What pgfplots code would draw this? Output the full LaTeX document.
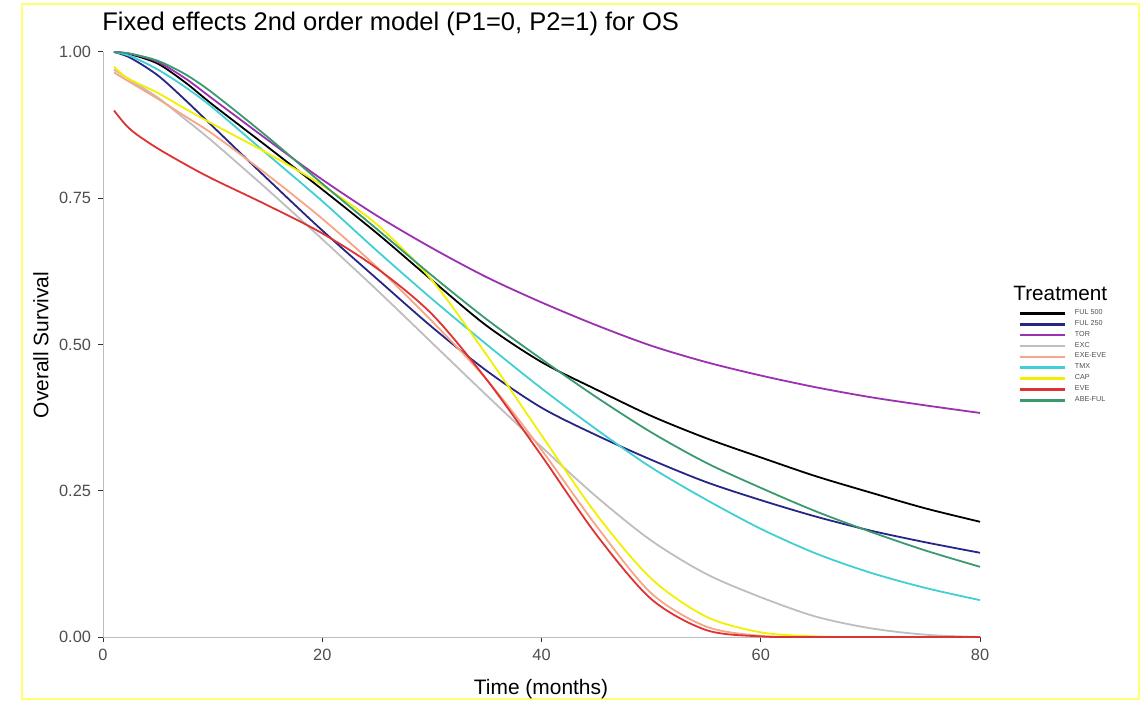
\documentclass[border=0pt]{standalone}
\usepackage{pgfplots}
\pgfplotsset{compat=1.18}
\usepackage{fontspec}
\setmainfont{Liberation Sans}
\definecolor{cFULfive}{HTML}{000000}
\definecolor{cFULtwo}{HTML}{262686}
\definecolor{cTOR}{HTML}{9B30B0}
\definecolor{cEXC}{HTML}{BEBEBE}
\definecolor{cEXEEVE}{HTML}{F6A586}
\definecolor{cTMX}{HTML}{3FCFD5}
\definecolor{cCAP}{HTML}{F0F000}
\definecolor{cEVE}{HTML}{DD3333}
\definecolor{cABEFUL}{HTML}{3A9A6E}
\definecolor{axisgray}{HTML}{BDBDBD}
\definecolor{tickgray}{HTML}{333333}
\definecolor{labelgray}{HTML}{4D4D4D}
\definecolor{frameyellow}{HTML}{FFFF70}

\begin{document}
\begin{tikzpicture}[x=1bp,y=1bp]
  \path[use as bounding box] (0,0) rectangle (573,351);
  \draw[frameyellow, line width=1.1bp] (11,1.5) rectangle (569.5,349);

  \begin{axis}[
    at={(51.5bp,32.5bp)}, anchor=south west,
    scale only axis,
    width=438.5bp, height=292.5bp,
    xmin=0, xmax=80, ymin=0, ymax=1,
    axis x line*=bottom, axis y line*=left,
    axis line style={draw=axisgray, line width=0.5bp, -},
    xtick={0,20,40,60,80},
    ytick={0,0.25,0.5,0.75,1},
    tick align=outside,
    major tick length=2.5bp,
    tick style={draw=tickgray, line width=0.5bp},
    ticklabel style={font=\fontsize{8.2}{9}\selectfont, text=labelgray},
    yticklabel style={/pgf/number format/.cd, fixed, fixed zerofill, precision=2},
    /pgf/number format/assume math mode=true,
    clip=false,
    every axis plot/.append style={line width=0.9bp, smooth, no markers},
    legend image code/.code={\draw[#1, line width=1.3bp] (0bp,0bp) -- (22.5bp,0bp);},
    legend cell align=left,
    legend style={
      at={(1.0433,0.5631)}, anchor=north west,
      draw=none, fill=none, inner sep=0pt,
      row sep=0pt, column sep=4.5bp,
      font=\fontsize{3.6}{4}\selectfont, text=labelgray,
      nodes={inner sep=0pt, minimum height=5.43bp}
    }
  ]
    % FUL 500
    \addplot[color=cFULfive] coordinates {(1,1.0) (2.5,0.996) (5,0.98) (7.5,0.948) (10,0.91)
      (15,0.838) (20,0.765) (25,0.69) (30,0.61) (35,0.532) (40,0.47) (45,0.423)
      (50,0.378) (55,0.34) (60,0.307) (65,0.275) (70,0.247) (75,0.22) (80,0.197)};
    % FUL 250
    \addplot[color=cFULtwo] coordinates {(1,1.0) (2.5,0.99) (5,0.96) (7.5,0.918) (10,0.873)
      (15,0.783) (20,0.695) (25,0.612) (30,0.53) (35,0.455) (40,0.392) (45,0.345)
      (50,0.303) (55,0.265) (60,0.234) (65,0.206) (70,0.182) (75,0.162) (80,0.144)};
    % TOR
    \addplot[color=cTOR] coordinates {(1,1.0) (2.5,0.997) (5,0.983) (7.5,0.955) (10,0.92)
      (15,0.85) (20,0.782) (25,0.72) (30,0.665) (35,0.615) (40,0.572) (45,0.533)
      (50,0.498) (55,0.47) (60,0.447) (65,0.427) (70,0.41) (75,0.396) (80,0.383)};
    % EXC
    \addplot[color=cEXC] coordinates {(1,0.97) (2.5,0.952) (5,0.922) (7.5,0.885) (10,0.847)
      (15,0.765) (20,0.68) (25,0.593) (30,0.503) (35,0.413) (40,0.325) (45,0.24)
      (50,0.165) (55,0.108) (60,0.068) (65,0.035) (70,0.015) (75,0.004) (80,0.0)};
    % EXE-EVE
    \addplot[color=cEXEEVE] coordinates {(1,0.965) (2.5,0.948) (5,0.92) (7.5,0.89) (10,0.86)
      (15,0.79) (20,0.715) (25,0.632) (30,0.54) (35,0.44) (40,0.32) (45,0.19)
      (50,0.075) (55,0.018) (60,0.002) (65,0.0) (70,0.0) (80,0.0)};
    % TMX
    \addplot[color=cTMX] coordinates {(1,1.0) (2.5,0.993) (5,0.97) (7.5,0.94) (10,0.905)
      (15,0.825) (20,0.745) (25,0.66) (30,0.578) (35,0.50) (40,0.425) (45,0.355)
      (50,0.29) (55,0.235) (60,0.185) (65,0.143) (70,0.11) (75,0.084) (80,0.063)};
    % CAP
    \addplot[color=cCAP] coordinates {(1,0.975) (2,0.958) (3,0.948) (5,0.93) (7.5,0.903)
      (10,0.877) (15,0.827) (20,0.772) (25,0.705) (30,0.61) (35,0.482) (40,0.345)
      (45,0.21) (50,0.1) (55,0.035) (60,0.008) (65,0.001) (70,0.0) (80,0.0)};
    % EVE
    \addplot[color=cEVE] coordinates {(1,0.90) (2,0.877) (3,0.86) (5,0.835) (7.5,0.808)
      (10,0.783) (15,0.738) (20,0.69) (25,0.63) (30,0.552) (35,0.44) (40,0.31)
      (45,0.175) (50,0.065) (55,0.012) (60,0.001) (65,0.0) (80,0.0)};
    % ABE-FUL
    \addplot[color=cABEFUL] coordinates {(1,1.0) (2.5,0.997) (5,0.985) (7.5,0.962) (10,0.93)
      (15,0.855) (20,0.775) (25,0.697) (30,0.618) (35,0.543) (40,0.475) (45,0.41)
      (50,0.35) (55,0.298) (60,0.255) (65,0.215) (70,0.18) (75,0.148) (80,0.12)};
    \legend{FUL 500, FUL 250, TOR, EXC, EXE-EVE, TMX, CAP, EVE, ABE-FUL}
  \end{axis}

  \node[anchor=base west, inner sep=0pt, font=\fontsize{12.8}{14}\selectfont] at (51,336)
    {Fixed effects 2nd order model (P1=0, P2=1) for OS};
  \node[anchor=base, font=\fontsize{10.5}{12}\selectfont] at (270.5,4) {Time (months)};
  \node[rotate=90, font=\fontsize{10.5}{12}\selectfont] at (20.5,178.5) {Overall Survival};
  \node[anchor=base west, inner sep=0pt, font=\fontsize{10.4}{12}\selectfont] at (506.5,201) {Treatment};
\end{tikzpicture}
\end{document}
